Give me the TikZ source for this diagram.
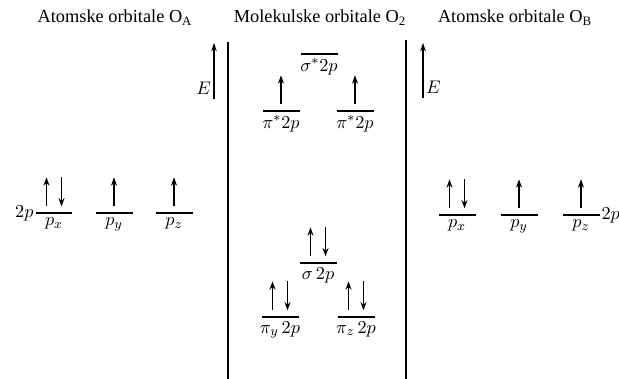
\documentclass[tikz,border=0pt]{standalone}
\usepackage{fontspec}
\setmainfont{Liberation Serif}
\usepackage{tikz}
\usetikzlibrary{positioning, arrows.meta}

\begin{document}
\begin{tikzpicture}[
    x=0.6pt, y=-0.6pt,
    every node/.style={font=\fontsize{11}{13}\selectfont},
    level/.style={minimum width=22.2pt, minimum height=0pt, inner sep=0pt, outer sep=0pt},
    lvl/.style={line width=0.9pt},
    orb/.style={inner sep=2.5pt},
    spinup/.style={-{Stealth[length=5pt, width=3.6pt]}, line width=0.75pt},
    spindown/.style={{Stealth[length=5pt, width=3.6pt]}-, line width=0.75pt},
    divider/.style={line width=1.1pt},
    axis/.style={-{Stealth[length=5pt, width=3.4pt]}, line width=0.7pt}
]
\useasboundingbox (0,0) rectangle (619,379);

% naslovi
\node (tA) at (115,18) {Atomske orbitale O\textsubscript{A}};
\node (tM) at (320,18) {Molekulske orbitale O\textsubscript{2}};
\node (tB) at (515,18) {Atomske orbitale O\textsubscript{B}};

% atomske orbitale O_A
\node[level, label={[orb]below:$p_x$}] (pxA) at (54,213) {};
\node[level, label={[orb]below:$p_y$}] (pyA) at (114,213) {};
\node[level, label={[orb]below:$p_z$}] (pzA) at (174,213) {};
\node[left=0pt of pxA, inner sep=1pt] (twopA) {$2p$};

% atomske orbitale O_B
\node[level, label={[orb]below:$p_x$}] (pxB) at (457,215) {};
\node[level, label={[orb]below:$p_y$}] (pyB) at (519,215) {};
\node[level, label={[orb]below:$p_z$}] (pzB) at (581,215) {};
\node[right=0pt of pzB, inner sep=1pt] (twopB) {$2p$};

% molekulske orbitale O_2
\node[level, label={[orb]below:$\sigma^{*}2p$}] (ssig) at (319,54) {};
\node[level, label={[orb]below:$\pi^{*}2p$}] (spiy) at (281,111) {};
\node[level, label={[orb]below:$\pi^{*}2p$}] (spiz) at (355,111) {};
\node[level, label={[orb]below:$\sigma\,2p$}] (bsig) at (318,263) {};
\node[level, label={[orb]below:$\pi_y\,2p$}] (bpiy) at (280,317) {};
\node[level, label={[orb]below:$\pi_z\,2p$}] (bpiz) at (356,317) {};

\foreach \n in {pxA,pyA,pzA,pxB,pyB,pzB,ssig,spiy,spiz,bsig,bpiy,bpiz}
    \draw[lvl] (\n.west) -- (\n.east);

% elektroni
\foreach \n in {pyA,pzA,pyB,pzB,spiy,spiz}
    \draw[spinup] ([yshift=4pt]\n.center) -- ++(0,17.4pt);
\foreach \n in {pxA,pxB,bsig,bpiy,bpiz} {
    \draw[spinup] ([xshift=-4.5pt, yshift=4pt]\n.center) -- ++(0,17.4pt);
    \draw[spindown] ([xshift=4.5pt, yshift=4pt]\n.center) -- ++(0,17.4pt);
}

% razdjelne linije
\coordinate (divL1) at (228,42);
\coordinate (divL2) at (228,379);
\coordinate (divR1) at (406,40);
\coordinate (divR2) at (406,379);
\draw[divider] (divL1) -- (divL2);
\draw[divider] (divR1) -- (divR2);

% energija
\coordinate (eA0) at (214,99);
\coordinate (eA1) at (214,43);
\coordinate (eB0) at (423,98);
\coordinate (eB1) at (423,43);
\draw[axis] (eA0) -- node[left, pos=0.2, inner sep=1.5pt] (EA) {$E$} (eA1);
\draw[axis] (eB0) -- node[right, pos=0.2, inner sep=1.5pt] (EB) {$E$} (eB1);
\end{tikzpicture}
\end{document}
